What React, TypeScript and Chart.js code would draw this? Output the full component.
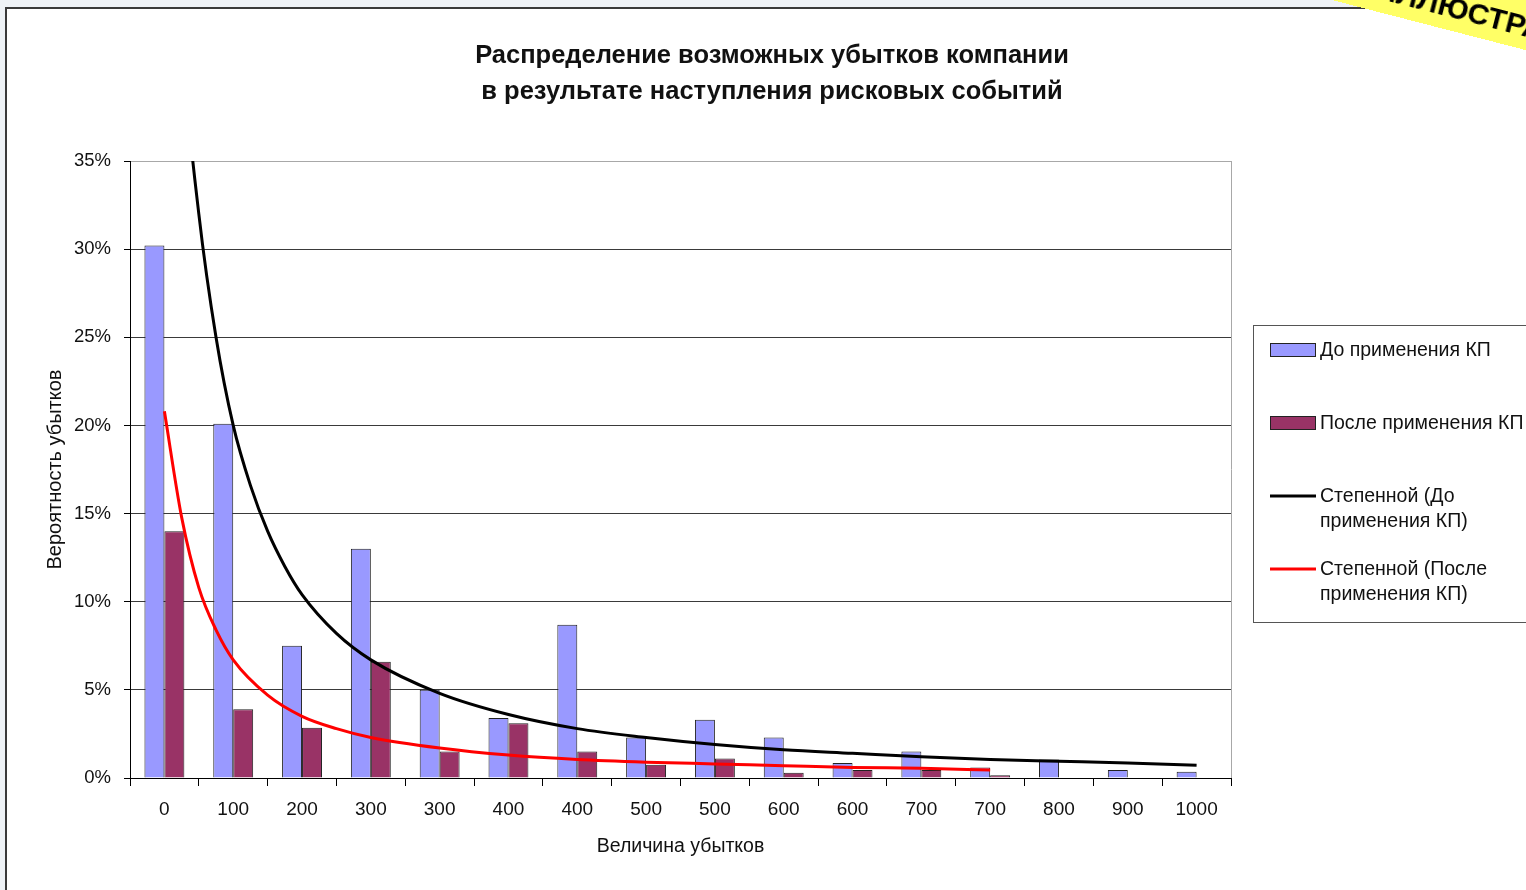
import React, { useEffect, useRef } from 'react';
import { Chart, registerables } from 'chart.js';

Chart.register(...registerables);

const titleLines = ['Распределение возможных убытков компании', 'в результате наступления рисковых событий'];
const categories = ['0', '100', '200', '300', '300', '400', '400', '500', '500', '600', '600', '700', '700', '800', '900', '1000'];
const beforeValues = [30.2, 20.1, 7.5, 13.0, 5.0, 3.4, 8.7, 2.3, 3.3, 2.3, 0.85, 1.5, 0.6, 1.05, 0.45, 0.35];
const afterValues = [14.0, 3.9, 2.85, 6.6, 1.5, 3.1, 1.5, 0.75, 1.1, 0.3, 0.45, 0.45, 0.15, 0, 0, 0];
const trendBeforePos = [0, 0.25, 0.5, 0.75, 1, 1.25, 1.5, 1.75, 2, 2.5, 3, 4, 5, 6, 7, 8, 9, 10, 11, 12, 13, 14, 15];
const trendBeforeVals = [60, 42, 32, 25, 20, 16.6, 14.0, 12.0, 10.4, 8.2, 6.7, 4.8, 3.6, 2.8, 2.3, 1.9, 1.6, 1.4, 1.2, 1.05, 0.95, 0.85, 0.72];
const trendAfterPos = [0, 0.25, 0.5, 0.75, 1, 1.5, 2, 2.5, 3, 4, 5, 6, 7, 8, 9, 10, 11, 12];
const trendAfterVals = [20.8, 14.8, 10.8, 8.4, 6.7, 4.7, 3.5, 2.8, 2.3, 1.7, 1.3, 1.05, 0.9, 0.8, 0.7, 0.6, 0.55, 0.45];
const yMax = 35;
const yStep = 5;

const FONT = '"Liberation Sans", Arial, sans-serif';

const frameLines = {
  id: 'frameLines',
  afterDatasetsDraw(chart: any) {
    const { ctx, chartArea } = chart;
    ctx.save();
    ctx.strokeStyle = '#a8a8a8';
    ctx.lineWidth = 1;
    ctx.beginPath();
    ctx.moveTo(Math.round(chartArea.right) + 0.5, chartArea.top);
    ctx.lineTo(Math.round(chartArea.right) + 0.5, chartArea.bottom);
    ctx.stroke();
    ctx.restore();
  },
};

function wrap(ctx: CanvasRenderingContext2D, text: string, maxW: number): string[] {
  const words = text.split(' ');
  const lines: string[] = [];
  let cur = '';
  for (const w of words) {
    const t = cur ? cur + ' ' + w : w;
    if (cur && ctx.measureText(t).width > maxW) {
      lines.push(cur);
      cur = w;
    } else cur = t;
  }
  if (cur) lines.push(cur);
  return lines;
}

const customLegend = {
  id: 'customLegend',
  afterDraw(chart: any) {
    const ctx: CanvasRenderingContext2D = chart.ctx;
    const ds = chart.data.datasets;
    ctx.save();
    ctx.strokeStyle = '#555';
    ctx.lineWidth = 1;
    ctx.fillStyle = '#fff';
    ctx.fillRect(1253.5, 325.5, 320, 297);
    ctx.strokeRect(1253.5, 325.5, 320, 297);
    ctx.font = '19.5px ' + FONT;
    ctx.textBaseline = 'middle';
    ctx.textAlign = 'left';
    const rowsY = [350, 423, 496, 569];
    ds.forEach((d: any, i: number) => {
      const y = rowsY[i];
      if (d.type === 'line') {
        ctx.strokeStyle = d.borderColor;
        ctx.lineWidth = 3;
        ctx.beginPath();
        ctx.moveTo(1270, y);
        ctx.lineTo(1316, y);
        ctx.stroke();
      } else {
        ctx.fillStyle = d.backgroundColor;
        ctx.fillRect(1270.5, y - 6.5, 45, 13);
        ctx.strokeStyle = '#222';
        ctx.lineWidth = 1;
        ctx.strokeRect(1270.5, y - 6.5, 45, 13);
      }
      ctx.fillStyle = '#111';
      const lines = wrap(ctx, d.label, 220);
      lines.forEach((ln, k) => ctx.fillText(ln, 1320, y + 1 + k * 25));
    });
    ctx.restore();
  },
};

export default function App() {
  const ref = useRef<HTMLCanvasElement>(null);
  useEffect(() => {
    document.body.style.margin = '0';
    const chart = new Chart(ref.current as HTMLCanvasElement, {
      type: 'bar',
      data: {
        datasets: [
          {
            type: 'bar',
            label: 'До применения КП',
            data: beforeValues.map((v, i) => ({ x: i, y: v })),
            backgroundColor: '#9999ff',
            borderColor: '#222222',
            borderWidth: 1,
            categoryPercentage: 0.58,
            barPercentage: 1,
            order: 3,
          },
          {
            type: 'bar',
            label: 'После применения КП',
            data: afterValues.map((v, i) => ({ x: i, y: v })),
            backgroundColor: '#993366',
            borderColor: '#222222',
            borderWidth: 1,
            categoryPercentage: 0.58,
            barPercentage: 1,
            order: 3,
          },
          {
            type: 'line',
            label: 'Степенной (До применения КП)',
            data: trendBeforePos.map((p, i) => ({ x: p, y: trendBeforeVals[i] })),
            borderColor: '#000000',
            borderWidth: 3,
            pointRadius: 0,
            cubicInterpolationMode: 'monotone',
            fill: false,
            order: 1,
          },
          {
            type: 'line',
            label: 'Степенной (После применения КП)',
            data: trendAfterPos.map((p, i) => ({ x: p, y: trendAfterVals[i] })),
            borderColor: '#ff0000',
            borderWidth: 3,
            pointRadius: 0,
            cubicInterpolationMode: 'monotone',
            fill: false,
            order: 0,
          },
        ] as any,
      },
      options: {
        animation: false,
        responsive: false,
        devicePixelRatio: 1,
        layout: { padding: { left: 18, right: 0, top: 0, bottom: 0 } },
        plugins: {
          legend: { display: false },
          tooltip: { enabled: false },
          title: {
            display: true,
            text: titleLines,
            color: '#111',
            font: { family: FONT, size: 25.5, weight: 'bold', lineHeight: 36 / 25.5 },
            padding: { top: 38, bottom: 51 },
          },
        },
        scales: {
          x: {
            type: 'linear',
            min: -0.5,
            max: 15.5,
            offset: false,
            afterBuildTicks: (s: any) => {
              s.ticks = categories.map((_, i) => ({ value: i }));
            },
            grid: { display: true, drawOnChartArea: false, drawTicks: true, tickLength: 8, color: '#000', offset: true },
            border: { display: true, color: '#000', width: 1 },
            ticks: {
              color: '#111',
              font: { family: FONT, size: 19 },
              padding: 12,
              maxRotation: 0,
              autoSkip: false,
              callback: (_v: any, i: number) => categories[i],
            },
            title: { display: true, text: 'Величина убытков', color: '#111', font: { family: FONT, size: 19.5 }, padding: { top: 0, bottom: 32 } },
            afterFit: (s: any) => { s.height = 112; },
          },
          y: {
            type: 'linear',
            position: 'left',
            min: 0,
            max: yMax,
            ticks: { stepSize: yStep, color: '#111', font: { family: FONT, size: 18.5 }, padding: 13, callback: (v: any) => v + '%' },
            grid: {
              color: (c: any) => (c.tick && c.tick.value === yMax ? '#a8a8a8' : '#3a3a3a'),
              tickColor: '#000',
              tickLength: 6,
              lineWidth: 1,
            },
            border: { display: true, color: '#000', width: 1 },
            title: { display: true, text: 'Вероятность убытков', color: '#111', font: { family: FONT, size: 20 }, padding: { top: 25, bottom: 0 } },
            afterFit: (s: any) => { s.width = 112; },
          },
          yR: {
            type: 'linear',
            position: 'right',
            display: true,
            ticks: { display: false },
            grid: { display: false },
            border: { display: false },
            afterFit: (s: any) => { s.width = 295; },
          },
        },
      } as any,
      plugins: [frameLines, customLegend],
    });
    return () => chart.destroy();
  }, []);

  return (
    <div style={{ position: 'relative', width: 1526, height: 890, overflow: 'hidden', background: '#eef2f6' }}>
      <div style={{ position: 'absolute', left: 5, top: 7, width: 1700, height: 1000, border: '2px solid #3a3a3a', background: '#fff' }} />
      <canvas ref={ref} width={1526} height={890} style={{ position: 'absolute', left: 0, top: 0, width: 1526, height: 890 }} />
      <div
        style={{
          position: 'absolute',
          left: 1100,
          top: -60 - 70,
          width: 700,
          height: 70,
          background: '#ffff66',
          transform: 'rotate(14.5deg)',
          transformOrigin: '0 100%',
        }}
      >
        <span
          style={{
            position: 'absolute',
            left: 280,
            bottom: 8,
            lineHeight: 1,
            fontFamily: FONT,
            fontWeight: 'bold',
            fontSize: 30,
            color: '#000',
            whiteSpace: 'nowrap',
          }}
        >
          ИЛЛЮСТРАЦИЯ
        </span>
      </div>
    </div>
  );
}
